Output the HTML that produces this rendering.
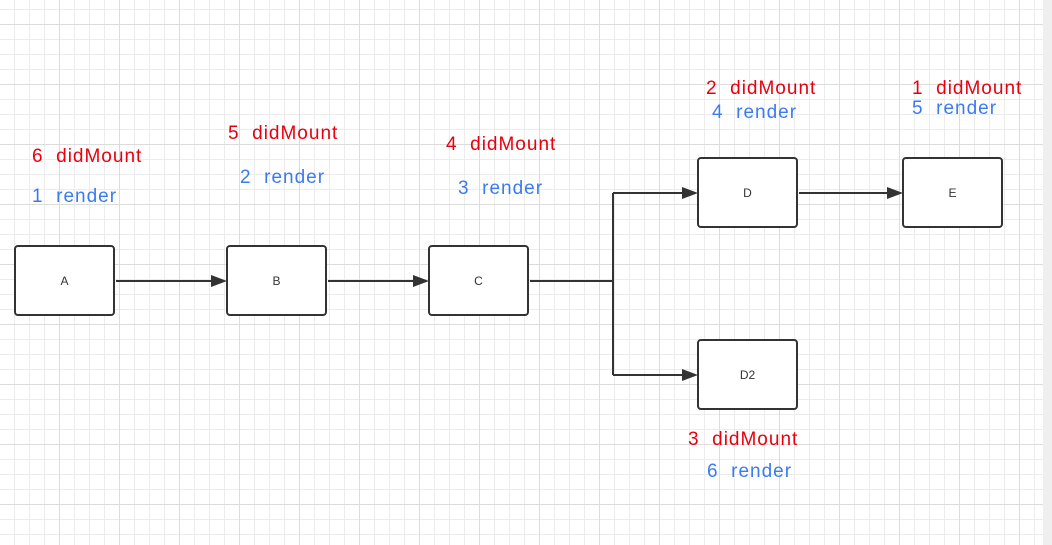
<!DOCTYPE html>
<html><head><meta charset="utf-8"><style>
html,body{margin:0;padding:0;}
body{width:1052px;height:545px;position:relative;overflow:hidden;background:#fff;
font-family:"Liberation Sans","Noto Sans CJK SC",sans-serif;}
.grid{position:absolute;left:0;top:0;width:1043px;height:545px;
background-image:
linear-gradient(to right,#dcdcdc 1px,transparent 1px),
linear-gradient(to bottom,#dcdcdc 1px,transparent 1px),
linear-gradient(to right,#ececec 1px,transparent 1px),
linear-gradient(to bottom,#ececec 1px,transparent 1px);
background-size:60px 60px,60px 60px,15px 15px,15px 15px;
background-position:59px 24px,59px 24px,14px 9px,14px 9px;}
.strip{position:absolute;left:1043px;top:0;width:9px;height:545px;background:#efefef;}
.box{position:absolute;width:97px;height:67px;border:2px solid #333;border-radius:4px;background:#fff;
font-size:12px;color:#333;display:flex;align-items:center;justify-content:center;}
.t{position:absolute;font-size:19px;letter-spacing:1px;white-space:pre;line-height:20px;}
.r{color:#e8000f}.b{color:#3b7bf0}
</style></head><body>
<div class="grid"></div><div class="strip"></div>
<svg width="1052" height="545" style="position:absolute;left:0;top:0">
<g stroke="#333" stroke-width="2" fill="none">
<path d="M116 281H212"/><path d="M328 281H414"/>
<path d="M530 281H613"/><path d="M613 193V375"/>
<path d="M613 193H683"/><path d="M613 375H683"/>
<path d="M799 193H888"/>
</g>
<g fill="#333">
<path d="M227 281l-16-6v12z"/><path d="M429 281l-16-6v12z"/>
<path d="M698 193l-16-6v12z"/><path d="M698 375l-16-6v12z"/>
<path d="M903 193l-16-6v12z"/>
</g>
</svg>
<div class="box" style="left:14px;top:245px">A</div>
<div class="box" style="left:226px;top:245px">B</div>
<div class="box" style="left:428px;top:245px">C</div>
<div class="box" style="left:697px;top:157px">D</div>
<div class="box" style="left:902px;top:157px">E</div>
<div class="box" style="left:697px;top:339px">D2</div>
<div class="t r" style="left:32px;top:147px">6  didMount</div>
<div class="t b" style="left:32px;top:187px">1  render</div>
<div class="t r" style="left:228px;top:124px">5  didMount</div>
<div class="t b" style="left:240px;top:168px">2  render</div>
<div class="t r" style="left:446px;top:135px">4  didMount</div>
<div class="t b" style="left:458px;top:179px">3  render</div>
<div class="t r" style="left:706px;top:79px">2  didMount</div>
<div class="t b" style="left:712px;top:103px">4  render</div>
<div class="t r" style="left:912px;top:79px">1  didMount</div>
<div class="t b" style="left:912px;top:99px">5  render</div>
<div class="t r" style="left:688px;top:430px">3  didMount</div>
<div class="t b" style="left:707px;top:462px">6  render</div>
</body></html>
